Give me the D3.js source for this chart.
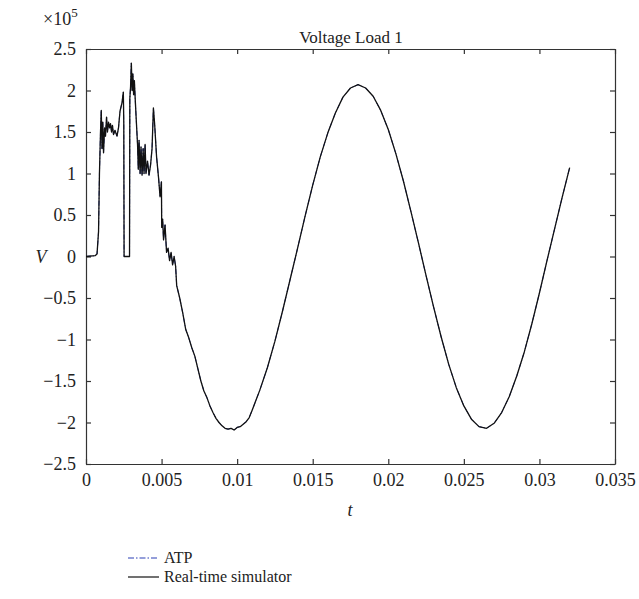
<!DOCTYPE html>
<html><head><meta charset="utf-8">
<script src="https://cdn.jsdelivr.net/npm/d3@7"></script>
<style>body{margin:0;background:#fff}svg{display:block}text{font-family:"Liberation Serif","Times New Roman",serif;fill:#222}</style>
</head><body>
<svg id="c" width="639" height="599"></svg>
<script>
// time (s)
const timeValues = [0,0.0006,0.00073,0.00083,0.00089,0.00096,0.00101,0.00106,0.00111,0.00116,0.00123,0.00129,0.00136,0.00142,0.00149,0.00156,0.00162,0.00169,0.00175,0.00182,0.00192,0.00205,0.00215,0.00225,0.00238,0.00247,0.0025,0.00252,0.00288,0.0029,0.00295,0.003,0.00305,0.0031,0.00315,0.0032,0.00325,0.00331,0.00341,0.00346,0.00351,0.00358,0.00364,0.00371,0.00378,0.00384,0.00391,0.00397,0.00407,0.00417,0.00427,0.00437,0.00446,0.00454,0.00467,0.0048,0.0049,0.00499,0.00501,0.00507,0.00513,0.00523,0.00533,0.00543,0.00553,0.00563,0.00573,0.00583,0.00593,0.0060,0.0062,0.0064,0.0066,0.0068,0.0070,0.0072,0.0074,0.0076,0.0078,0.0080,0.0082,0.0084,0.0086,0.0088,0.0090,0.0092,0.0094,0.0096,0.0098,0.0100,0.0102,0.0104,0.0106,0.0108,0.0110,0.0115,0.0120,0.0125,0.0130,0.0135,0.0140,0.0145,0.0150,0.0155,0.0160,0.0165,0.0170,0.0175,0.0180,0.0185,0.0190,0.0195,0.0200,0.0205,0.0210,0.0215,0.0220,0.0225,0.0230,0.0235,0.0240,0.0245,0.0250,0.0255,0.0260,0.0265,0.0270,0.0275,0.0280,0.0285,0.0290,0.0295,0.0300,0.0305,0.0310,0.0315,0.0320];
// real-time simulator voltage (x1e5 V)
const simValues = [0,0.01,0.03,0.3,1.0,1.5,1.76,1.3,1.62,1.25,1.55,1.45,1.68,1.5,1.62,1.55,1.6,1.5,1.58,1.47,1.52,1.45,1.55,1.75,1.85,1.98,1.6,0,0,1.9,2.05,2.33,2.0,2.2,1.95,2.12,1.92,1.7,1.35,1.05,1.4,1.0,1.32,0.98,1.3,1.0,1.35,1.0,1.15,0.98,1.1,1.3,1.79,1.6,1.2,0.95,0.72,0.9,0.35,0.45,0.2,0.38,0.05,0.1,-0.05,0.05,-0.1,0.0,-0.12,-0.35,-0.5,-0.68,-0.88,-0.98,-1.1,-1.2,-1.35,-1.5,-1.62,-1.7,-1.8,-1.88,-1.95,-2.0,-2.04,-2.07,-2.08,-2.07,-2.09,-2.06,-2.05,-2.02,-1.99,-1.94,-1.85,-1.61,-1.34,-1.02,-0.66,-0.28,0.10,0.49,0.86,1.20,1.49,1.73,1.92,2.03,2.07,2.03,1.93,1.76,1.53,1.24,0.91,0.54,0.16,-0.23,-0.61,-0.97,-1.30,-1.58,-1.80,-1.96,-2.05,-2.07,-2.01,-1.88,-1.69,-1.44,-1.15,-0.81,-0.44,-0.05,0.33,0.71,1.07];
// ATP voltage (x1e5 V) – overlaps the simulator trace
const atpValues = simValues.slice();
const xTicks = [0,0.005,0.01,0.015,0.02,0.025,0.03,0.035];
const yTicks = [-2.5,-2,-1.5,-1,-0.5,0,0.5,1,1.5,2,2.5];
const seriesNames = ["ATP","Real-time simulator"];

const svg = d3.select("#c");
const L=86,R=615,T=49,B=464;
const x = d3.scaleLinear().domain([0,0.035]).range([L,R]);
const y = d3.scaleLinear().domain([-2.5,2.5]).range([B,T]);
const fmt = v => (v<0?"\u2212":"")+String(Math.abs(v));

const g = svg.append("g");
const tk=5;
const axB = d3.axisBottom(x).tickValues(xTicks).tickSizeInner(-tk).tickSizeOuter(0).tickPadding(9).tickFormat(fmt);
const axT = d3.axisTop(x).tickValues(xTicks).tickSizeInner(-tk).tickSizeOuter(0).tickFormat("");
const axL = d3.axisLeft(y).tickValues(yTicks).tickSizeInner(-tk).tickSizeOuter(0).tickPadding(10).tickFormat(fmt);
const axR = d3.axisRight(y).tickValues(yTicks).tickSizeInner(-tk).tickSizeOuter(0).tickFormat("");
g.append("g").attr("transform",`translate(0,${B})`).call(axB);
g.append("g").attr("transform",`translate(0,${T})`).call(axT);
g.append("g").attr("transform",`translate(${L},0)`).call(axL);
g.append("g").attr("transform",`translate(${R},0)`).call(axR);
g.selectAll(".domain").attr("stroke","#333").attr("stroke-width",1.2);
g.selectAll(".tick line").attr("stroke","#333").attr("stroke-width",1.2);
g.selectAll(".tick text").style("font-family",'"Liberation Serif",serif').style("font-size","18px").attr("fill","#222");

const line = d3.line().x((d,i)=>x(timeValues[i])).y(d=>y(d));
svg.append("path").datum(atpValues).attr("d",line).attr("fill","none").attr("stroke","#2a3fb5").attr("stroke-width",1).attr("stroke-dasharray","5,2,1,2");
svg.append("path").datum(simValues).attr("d",line).attr("fill","none").attr("stroke","#111").attr("stroke-width",1.3).attr("stroke-linejoin","round");

svg.append("text").attr("x",351).attr("y",43).attr("text-anchor","middle").style("font-size","17px").text("Voltage Load 1");
const ex = svg.append("text").attr("x",43).attr("y",25).style("font-size","18px");
ex.append("tspan").text("\u00d710");
ex.append("tspan").attr("dy",-8).style("font-size","13px").text("5");
svg.append("text").attr("x",41).attr("y",263).attr("text-anchor","middle").style("font-size","18px").style("font-style","italic").text("V");
svg.append("text").attr("x",350).attr("y",516).attr("text-anchor","middle").style("font-size","18px").style("font-style","italic").text("t");

const leg = svg.append("g");
const ly = [558,577];
leg.append("line").attr("x1",128).attr("x2",159).attr("y1",ly[0]).attr("y2",ly[0]).attr("stroke","#2a3fb5").attr("stroke-width",1).attr("stroke-dasharray","6,2,1.5,2");
leg.append("line").attr("x1",128).attr("x2",159).attr("y1",ly[1]).attr("y2",ly[1]).attr("stroke","#111").attr("stroke-width",1.2);
seriesNames.forEach((n,i)=>leg.append("text").attr("x",164).attr("y",ly[i]+5).style("font-size","16px").text(n));
</script>
</body></html>
